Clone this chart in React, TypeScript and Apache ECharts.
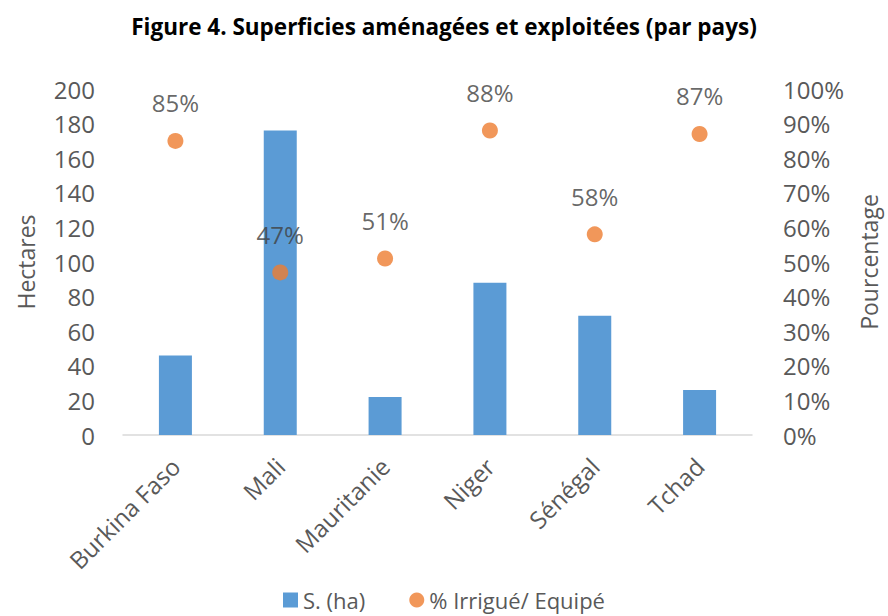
import React, { useEffect, useRef } from "react";
import * as echarts from "echarts";

const categories = ["Burkina Faso", "Mali", "Mauritanie", "Niger", "Sénégal", "Tchad"];
const hectares = [46, 176, 22, 88, 69, 26];
const pctIrrigue = [85, 47, 51, 88, 58, 87];
const leftTicks = { min: 0, max: 200, interval: 20 };
const rightTicks = { min: 0, max: 100, interval: 10 };

const FONT = "'Open Sans', 'Liberation Sans', sans-serif";
const GRAY = "#595959";

export default function App() {
  const ref = useRef<HTMLDivElement>(null);
  useEffect(() => {
    if (!ref.current) return;
    const chart = echarts.init(ref.current, undefined, { renderer: "svg" });
    chart.setOption({
      animation: false,
      backgroundColor: "#ffffff",
      textStyle: { fontFamily: FONT },
      title: {
        text: "Figure 4. Superficies aménagées et exploitées (par pays)",
        left: "center",
        top: 10,
        textStyle: { fontFamily: FONT, fontWeight: "bold", fontSize: 22.5, color: "#000000" },
      },
      grid: { left: 123, right: 122, top: 89, bottom: 181, containLabel: false },
      legend: {
        bottom: 0,
        left: "center",
        itemGap: 44,
        itemWidth: 15,
        itemHeight: 15,
        textStyle: { fontFamily: FONT, fontSize: 22, color: GRAY },
        data: [
          { name: "S. (ha)", icon: "rect" },
          { name: "% Irrigué/ Equipé", icon: "circle" },
        ],
      },
      xAxis: {
        type: "category",
        data: categories,
        axisLine: { lineStyle: { color: "#D9D9D9", width: 1.5 } },
        axisTick: { show: false },
        axisLabel: {
          rotate: 45,
          margin: 27,
          fontSize: 24,
          color: GRAY,
          fontFamily: FONT,
        },
      },
      yAxis: [
        {
          type: "value",
          min: leftTicks.min,
          max: leftTicks.max,
          interval: leftTicks.interval,
          name: "Hectares",
          nameLocation: "middle",
          nameGap: 86,
          nameTextStyle: { fontSize: 23, color: GRAY, fontFamily: FONT },
          splitLine: { show: false },
          axisLine: { show: false },
          axisTick: { show: false },
          axisLabel: { margin: 28, fontSize: 24, color: GRAY, fontFamily: FONT },
        },
        {
          type: "value",
          min: rightTicks.min,
          max: rightTicks.max,
          interval: rightTicks.interval,
          name: "Pourcentage",
          nameLocation: "middle",
          nameGap: 105,
          nameTextStyle: { fontSize: 23, color: GRAY, fontFamily: FONT },
          splitLine: { show: false },
          axisLine: { show: false },
          axisTick: { show: false },
          axisLabel: { margin: 31, fontSize: 24, color: GRAY, fontFamily: FONT, formatter: "{value}%" },
        },
      ],
      series: [
        {
          name: "S. (ha)",
          type: "bar",
          data: hectares,
          barWidth: 33,
          itemStyle: { color: "#5B9BD5" },
        },
        {
          name: "% Irrigué/ Equipé",
          type: "scatter",
          yAxisIndex: 1,
          data: pctIrrigue,
          symbolSize: 16,
          itemStyle: { color: "#ED7D31" },
          label: {
            show: true,
            position: "top",
            distance: 18,
            formatter: "{c}%",
            fontSize: 24,
            color: "#404040",
            fontFamily: FONT,
          },
        },
      ],
    });
    return () => chart.dispose();
  }, []);
  return <div ref={ref} style={{ width: 888, height: 616, position: "absolute", left: 0, top: 0 }} />;
}
